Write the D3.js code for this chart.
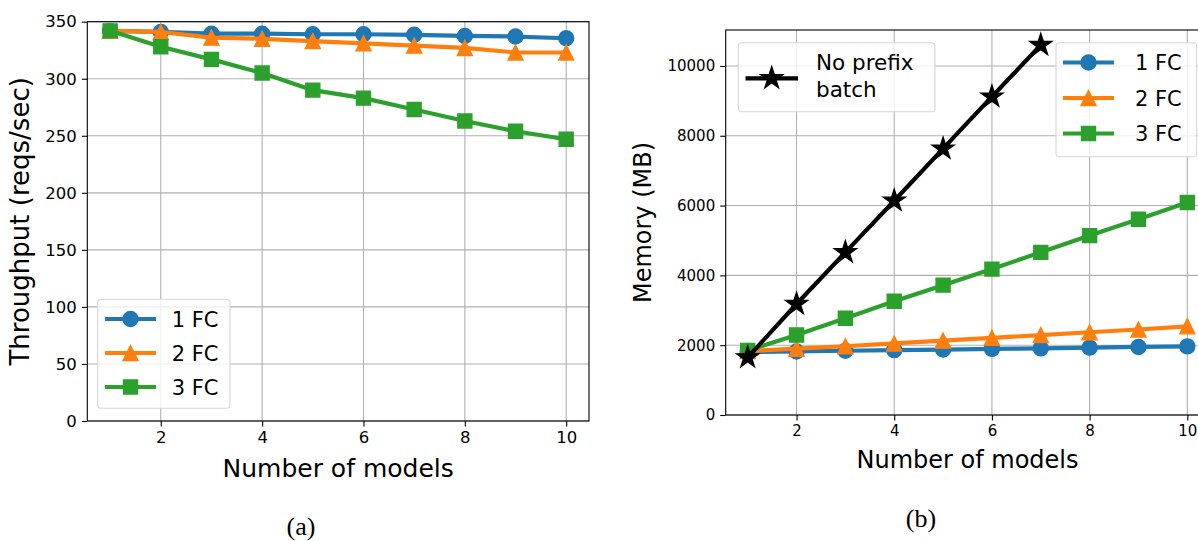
<!DOCTYPE html>
<html>
<head>
<meta charset="utf-8">
<script src="https://cdn.jsdelivr.net/npm/d3@7"></script>
<style>
  body { margin: 0; background: #fff; }
  svg { display: block; font-family: "DejaVu Sans", sans-serif; }
</style>
</head>
<body>
<div id="chart"></div>
<script>
// data
const models = [1, 2, 3, 4, 5, 6, 7, 8, 9, 10];
const xTicks = [2, 4, 6, 8, 10];

// (a) throughput
const thr1FC = [342, 341, 339.5, 339.5, 339, 339, 338.5, 337.5, 337, 335.5];
const thr2FC = [342, 341, 336, 335, 333, 331, 329, 327, 323, 323];
const thr3FC = [342, 328, 317, 305, 290, 283, 273, 263, 254, 247];
const thrTicks = [0, 50, 100, 150, 200, 250, 300, 350];

// (b) memory
const noPrefixModels = [1, 2, 3, 4, 5, 6, 7];
const memNoPrefix = [1650, 3180, 4660, 6140, 7630, 9120, 10600];
const mem1FC = [1800, 1820, 1840, 1860, 1875, 1895, 1910, 1930, 1950, 1965];
const mem2FC = [1830, 1900, 1970, 2050, 2130, 2210, 2290, 2370, 2450, 2540];
const mem3FC = [1850, 2290, 2770, 3260, 3720, 4180, 4660, 5140, 5610, 6090];
const memTicks = [0, 2000, 4000, 6000, 8000, 10000];

const seriesLabels = ["1 FC", "2 FC", "3 FC"];
const colors = ["#1f77b4", "#ff7f0e", "#2ca02c"];
const markers = ["circle", "triangle", "square"];

const svg = d3.select("#chart").append("svg")
    .attr("width", 1198)
    .attr("height", 541);

// marker paths, centred like matplotlib
function markerPath(kind, s) {
    const h = s / 2;
    if (kind === "circle") return d3.arc()({innerRadius: 0, outerRadius: h, startAngle: 0, endAngle: 2 * Math.PI});
    if (kind === "square") return `M${-h},${-h}H${h}V${h}H${-h}Z`;
    if (kind === "triangle") return `M0,${-h}L${h},${h}L${-h},${h}Z`;
    if (kind === "star") {
        const pts = [];
        for (let i = 0; i < 10; i++) {
            const r = i % 2 === 0 ? h : h * 0.381966;
            const a = -Math.PI / 2 + i * Math.PI / 5;
            pts.push([r * Math.cos(a), r * Math.sin(a)]);
        }
        return "M" + pts.map(p => p.join(",")).join("L") + "Z";
    }
}

function drawPanel(opt) {
    const x = d3.scaleLinear().domain([0.55, 10.45]).range([opt.left, opt.right]);
    const y = d3.scaleLinear().domain(opt.yDomain).range([opt.bottom, opt.top]);
    const g = svg.append("g");

    // grid
    g.append("g").selectAll("line").data(xTicks).join("line")
        .attr("x1", d => x(d)).attr("x2", d => x(d))
        .attr("y1", opt.top).attr("y2", opt.bottom)
        .attr("stroke", "#b0b0b0").attr("stroke-width", 1.1);
    g.append("g").selectAll("line").data(opt.yTicks).join("line")
        .attr("x1", opt.left).attr("x2", opt.right)
        .attr("y1", d => y(d)).attr("y2", d => y(d))
        .attr("stroke", "#b0b0b0").attr("stroke-width", 1.1);

    // axes
    const xAxis = g.append("g")
        .attr("transform", `translate(0,${opt.bottom})`)
        .call(d3.axisBottom(x).tickValues(xTicks).tickFormat(d3.format("d"))
            .tickSize(5.5).tickPadding(5).tickSizeOuter(0));
    const yAxis = g.append("g")
        .attr("transform", `translate(${opt.left},0)`)
        .call(d3.axisLeft(y).tickValues(opt.yTicks).tickFormat(d3.format("d"))
            .tickSize(5.5).tickPadding(5).tickSizeOuter(0));
    [xAxis, yAxis].forEach(a => {
        a.select(".domain").remove();
        a.selectAll("line").attr("stroke", "#000").attr("stroke-width", 1.1);
        a.selectAll("text").attr("fill", "#000")
            .style("font-family", "DejaVu Sans").style("font-size", opt.tickFont + "px");
    });

    // frame
    g.append("rect")
        .attr("x", opt.left).attr("y", opt.top)
        .attr("width", opt.right - opt.left).attr("height", opt.bottom - opt.top)
        .attr("fill", "none").attr("stroke", "#000").attr("stroke-width", 1.1);

    // series
    const line = d3.line().x(d => x(d[0])).y(d => y(d[1]));
    opt.series.forEach(s => {
        const pts = s.xs.map((v, i) => [v, s.ys[i]]);
        g.append("path").datum(pts)
            .attr("d", line)
            .attr("fill", "none").attr("stroke", s.color)
            .attr("stroke-width", 4.2).attr("stroke-linejoin", "round");
        g.append("g").selectAll("path").data(pts).join("path")
            .attr("transform", d => `translate(${x(d[0])},${y(d[1])})`)
            .attr("d", markerPath(s.marker, s.size))
            .attr("fill", s.color).attr("stroke", s.color).attr("stroke-width", 1.4);
    });

    // axis labels
    g.append("text")
        .attr("x", (opt.left + opt.right) / 2).attr("y", opt.xLabelY)
        .attr("text-anchor", "middle")
        .style("font-size", opt.labelFont + "px")
        .text("Number of models");
    g.append("text")
        .attr("transform", `translate(${opt.yLabelX},${(opt.top + opt.bottom) / 2}) rotate(-90)`)
        .attr("text-anchor", "middle")
        .style("font-size", opt.yLabelFont + "px")
        .text(opt.yLabel);
}

function legendBox(x0, y0, w, h) {
    svg.append("rect")
        .attr("x", x0).attr("y", y0).attr("width", w).attr("height", h)
        .attr("rx", 3.5)
        .attr("fill", "#fff").attr("fill-opacity", 0.8)
        .attr("stroke", "#d6d6d6").attr("stroke-width", 1.1);
}

function legendRow(lx, ly, color, marker, size, label, textX) {
    svg.append("line")
        .attr("x1", lx).attr("x2", lx + 51).attr("y1", ly).attr("y2", ly)
        .attr("stroke", color).attr("stroke-width", 4.2);
    svg.append("path")
        .attr("transform", `translate(${lx + 25.5},${ly})`)
        .attr("d", markerPath(marker, size))
        .attr("fill", color).attr("stroke", color).attr("stroke-width", 1.4);
    svg.append("text")
        .attr("x", textX).attr("y", ly + 7.5)
        .style("font-size", "21px")
        .text(label);
}

// panel (a)
drawPanel({
    left: 87.3, right: 589, top: 21.7, bottom: 421,
    yDomain: [0, 350], yTicks: thrTicks,
    tickFont: 16.5, labelFont: 25, yLabelFont: 26,
    xLabelY: 477, yLabelX: 29,
    yLabel: "Throughput (reqs/sec)",
    series: [
        {xs: models, ys: thr1FC, color: colors[0], marker: markers[0], size: 15},
        {xs: models, ys: thr2FC, color: colors[1], marker: markers[1], size: 15},
        {xs: models, ys: thr3FC, color: colors[2], marker: markers[2], size: 14}
    ]
});

// panel (b)
drawPanel({
    left: 725.7, right: 1209.3, top: 30, bottom: 415,
    yDomain: [0, 11030], yTicks: memTicks,
    tickFont: 15, labelFont: 24, yLabelFont: 24,
    xLabelY: 468, yLabelX: 651,
    yLabel: "Memory (MB)",
    series: [
        {xs: models, ys: mem1FC, color: colors[0], marker: markers[0], size: 15},
        {xs: models, ys: mem2FC, color: colors[1], marker: markers[1], size: 15},
        {xs: models, ys: mem3FC, color: colors[2], marker: markers[2], size: 14},
        {xs: noPrefixModels, ys: memNoPrefix, color: "#000", marker: "star", size: 23}
    ]
});

// legend (a)
legendBox(97.7, 299.3, 132.3, 109);
[319, 353, 387].forEach((ly, i) =>
    legendRow(105, ly, colors[i], markers[i], i === 2 ? 14 : 15, seriesLabels[i], 171.7));

// legend (b) no prefix
legendBox(738.3, 42.7, 196.7, 69);
svg.append("line")
    .attr("x1", 745.5).attr("x2", 798).attr("y1", 78.3).attr("y2", 78.3)
    .attr("stroke", "#000").attr("stroke-width", 4.2);
svg.append("path")
    .attr("transform", "translate(771.7,78.3)")
    .attr("d", markerPath("star", 23))
    .attr("fill", "#000").attr("stroke", "#000").attr("stroke-width", 1.4);
svg.append("text").attr("x", 816).attr("y", 70).style("font-size", "21.5px").text("No prefix");
svg.append("text").attr("x", 816).attr("y", 96.7).style("font-size", "21.5px").text("batch");

// legend (b) FC
legendBox(1056, 42.7, 140.7, 114);
[62.5, 98, 133.5].forEach((ly, i) =>
    legendRow(1063, ly, colors[i], markers[i], i === 2 ? 14 : 15, seriesLabels[i], 1135));

// captions
svg.append("text").attr("x", 301).attr("y", 535).attr("text-anchor", "middle")
    .style("font-family", "Liberation Serif").style("font-size", "26px").text("(a)");
svg.append("text").attr("x", 921).attr("y", 527).attr("text-anchor", "middle")
    .style("font-family", "Liberation Serif").style("font-size", "26px").text("(b)");
</script>
</body>
</html>
